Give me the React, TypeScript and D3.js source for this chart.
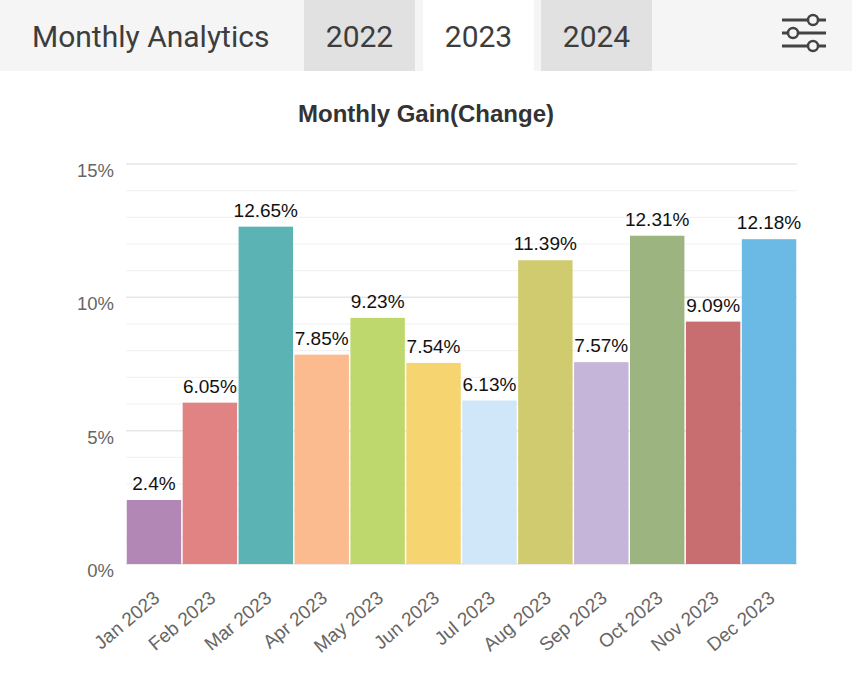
import React from "react";
import * as d3 from "d3";

const months = ["Jan 2023","Feb 2023","Mar 2023","Apr 2023","May 2023","Jun 2023","Jul 2023","Aug 2023","Sep 2023","Oct 2023","Nov 2023","Dec 2023"];
const gains = [2.4, 6.05, 12.65, 7.85, 9.23, 7.54, 6.13, 11.39, 7.57, 12.31, 9.09, 12.18];
const labels = ["2.4%","6.05%","12.65%","7.85%","9.23%","7.54%","6.13%","11.39%","7.57%","12.31%","9.09%","12.18%"];
const colors = ["#b286b5","#e28383","#5bb4b3","#fcba8f","#bed86d","#f6d470","#d0e6f9","#d0cb6e","#c5b5d8","#9cb580","#c86e71","#6bbae5"];
const yTicks = [0, 5, 10, 15];
const years = ["2022","2023","2024"];

export default function App() {
  const W = 852, H = 683;
  const left = 126, right = 797, top = 164, bottom = 564;
  const x = d3.scaleBand<string>().domain(months).range([left, right]).padding(0);
  const y = d3.scaleLinear().domain([0, 15]).range([bottom, top]);
  const grid = d3.range(0, 16, 1);
  const tabX = [304, 423, 541];
  const font = "Liberation Sans, Arial, sans-serif";
  return (
    <svg width={W} height={H} style={{ position: "absolute", left: 0, top: 0, background: "#fff" }}>
      <rect x={0} y={0} width={W} height={71} fill="#f5f5f5" />
      <text x={32} y={47} fontFamily="Roboto" fontSize={30} fill="#3d3d3d">Monthly Analytics</text>
      {years.map((yr, i) => (
        <g key={yr}>
          <rect x={tabX[i]} y={0} width={111} height={71} fill={i === 1 ? "#ffffff" : "#e1e1e1"} />
          <text x={tabX[i] + 55.5} y={47} textAnchor="middle" fontFamily="Roboto" fontSize={30} fill="#3d3d3d">{yr}</text>
        </g>
      ))}
      <g stroke="#444" strokeWidth={3} fill="#f5f5f5">
        <line x1={782} x2={826} y1={20} y2={20} />
        <line x1={782} x2={826} y1={33} y2={33} />
        <line x1={782} x2={826} y1={46} y2={46} />
        <circle cx={813} cy={20} r={5} strokeWidth={2.5} />
        <circle cx={793} cy={33} r={5} strokeWidth={2.5} />
        <circle cx={813} cy={46} r={5} strokeWidth={2.5} />
      </g>
      <text x={426} y={122} textAnchor="middle" fontFamily={font} fontWeight="bold" fontSize={24} fill="#333">Monthly Gain(Change)</text>
      {grid.map((g) => (
        <line key={g} x1={left} x2={right} y1={y(g)} y2={y(g)} stroke={g % 5 === 0 ? "#e6e6e6" : "#f0f0f0"} strokeWidth={g % 5 === 0 ? 1.5 : 1} />
      ))}
      {yTicks.map((t) => (
        <text key={t} x={114} y={y(t) + 13} textAnchor="end" fontFamily={font} fontSize={18.5} fill="#666">{t}%</text>
      ))}
      {months.map((m, i) => (
        <g key={m}>
          <rect x={x(m)! + 0.75} y={y(gains[i])} width={x.bandwidth() - 1.5} height={bottom - y(gains[i])} fill={colors[i]} />
          <text x={x(m)! + x.bandwidth() / 2} y={y(gains[i]) - 10} textAnchor="middle" fontFamily={font} fontSize={19} fill="#111">{labels[i]}</text>
          <text transform={`translate(${x(m)! + x.bandwidth() / 2 + 7},${600}) rotate(-40)`} textAnchor="end" fontFamily={font} fontSize={19} fill="#666">{m}</text>
        </g>
      ))}
    </svg>
  );
}
